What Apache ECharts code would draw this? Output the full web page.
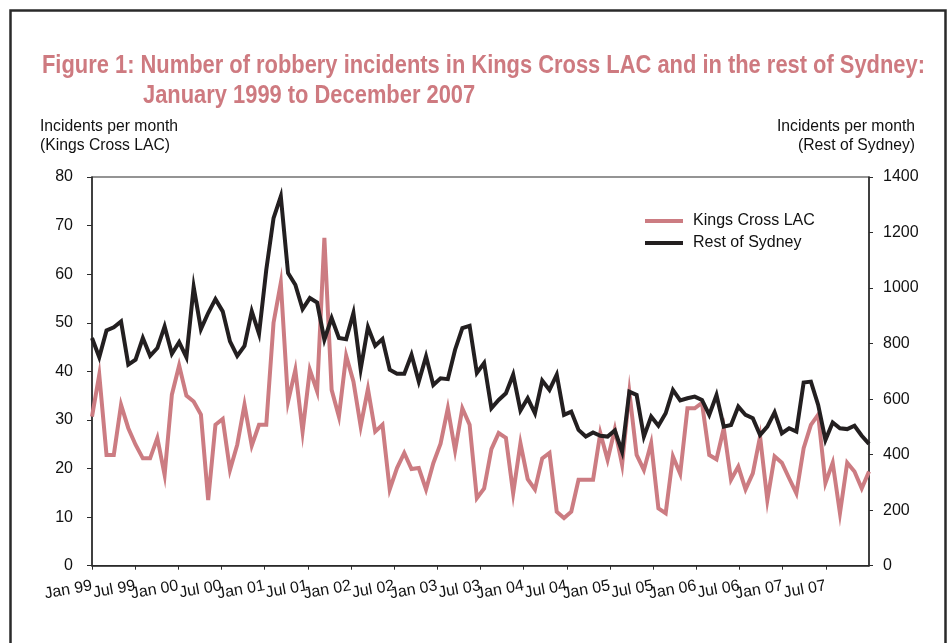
<!DOCTYPE html>
<html>
<head>
<meta charset="utf-8">
<script src="https://cdn.jsdelivr.net/npm/echarts@6/dist/echarts.min.js"></script>
<style>
html,body{margin:0;padding:0;background:#fff;}
#chart{width:952px;height:643px;}
</style>
</head>
<body>
<div id="chart"></div>
<script>
// Monthly robbery incidents, Jan 1999 - Dec 2007
var kingsCross = [
  30.7,39.3,22.8,22.8,33.1,28.3,24.9,22.1,22.1,26.3,18.7,35.2,41.2,35,33.8,31.1,13.5,29,30.2,19.7,24.9,33.1,24.7,29,29,50,58.2,
  33.8,40.3,27.6,40.3,35.9,67.5,36.2,30.7,43.2,37.9,28.7,36.4,27.6,29,15.7,20.1,23.2,19.9,20.1,15.7,21.1,25.1,32.4,23.7,32.4,29,13.9,
  15.9,24,27.3,26.3,14.9,25.2,17.8,15.7,22.1,23.2,11.1,9.8,11.1,17.7,17.7,17.7,27.3,21.8,28.1,20.8,35.7,22.8,19.7,25.2,11.8,10.8,22.5,
  18.9,32.4,32.4,33.5,22.8,21.9,28.3,17.7,20.4,15.7,19,26.6,13.5,22.5,21.2,18,14.9,24.2,29,31.1,17,21.2,10.8,21.2,19.4,15.9,19.4
];
var restOfSydney = [
  820,751,847,859,880,724,742,820,756,784,862,763,805,751,1004,852,910,960,916,808,756,792,916,835,1066,1252,1330,
  1054,1012,924,964,948,814,892,820,816,910,708,859,792,816,706,691,691,760,663,754,651,675,672,778,856,864,694,
  730,567,597,621,688,559,603,549,667,633,688,543,555,489,465,480,468,465,487,411,627,615,465,537,504,549,633,
  595,603,609,597,543,615,501,507,573,543,531,471,501,552,477,495,483,660,663,579,453,516,495,492,504,468,439
];
var tickLabels = ['Jan 99','Jul 99','Jan 00','Jul 00','Jan 01','Jul 01','Jan 02','Jul 02','Jan 03','Jul 03',
                  'Jan 04','Jul 04','Jan 05','Jul 05','Jan 06','Jul 06','Jan 07','Jul 07',''];
var monthNames = ['Jan','Feb','Mar','Apr','May','Jun','Jul','Aug','Sep','Oct','Nov','Dec'];
var years = ['99','00','01','02','03','04','05','06','07'];
var months = [];
years.forEach(function(y){ monthNames.forEach(function(m){ months.push(m + ' ' + y); }); });

var TITLE1 = 'Figure 1: Number of robbery incidents in Kings Cross LAC and in the rest of Sydney:';
var TITLE2 = 'January 1999 to December 2007';
var FONT = "'Liberation Sans',Arial,sans-serif";
var PINK = '#CC7C82';
var TITLE_PINK = '#CE7A80';
var BLACK = '#231F20';
var AXIS = '#2b2b2b';

// horizontal compression to imitate the condensed typeface of the original
var ctx = document.createElement('canvas').getContext('2d');
function textWidth(txt, font) { ctx.font = font; return ctx.measureText(txt).width; }
var titleFont = 'bold 25px ' + FONT;
var titleScale = 883 / textWidth(TITLE1, titleFont);
var nameFont = '16.5px ' + FONT;
var nameScale = 138 / textWidth('Incidents per month', nameFont);

function label(txt, x, y, align) {
  return { type: 'text', x: x, y: y, scaleX: nameScale, silent: true,
    style: { x: 0, y: 0, text: txt, font: nameFont, fill: '#111', textAlign: align, textVerticalAlign: 'top' } };
}

var chart = echarts.init(document.getElementById('chart'));
chart.setOption({
  backgroundColor: '#ffffff',
  animation: false,
  graphic: [
    { type: 'rect', shape: { x: 10.5, y: 10.5, width: 935, height: 700 },
      style: { fill: 'none', stroke: '#2a2a2a', lineWidth: 2.5 }, silent: true },
    { type: 'text', x: 42, y: 54, scaleX: titleScale, silent: true,
      style: { x: 0, y: 0, text: TITLE1, font: titleFont, fill: TITLE_PINK, textAlign: 'left', textVerticalAlign: 'top' } },
    { type: 'text', x: 143, y: 84, scaleX: titleScale, silent: true,
      style: { x: 0, y: 0, text: TITLE2, font: titleFont, fill: TITLE_PINK, textAlign: 'left', textVerticalAlign: 'top' } },
    label('Incidents per month', 40, 118, 'left'),
    label('(Kings Cross LAC)', 40, 137, 'left'),
    label('Incidents per month', 915, 118, 'right'),
    label('(Rest of Sydney)', 915, 137, 'right')
  ],
  legend: {
    orient: 'vertical', left: 640, top: 208, itemGap: 6,
    itemWidth: 38, itemHeight: 4, icon: 'rect',
    textStyle: { fontFamily: FONT, fontSize: 16, color: '#111', padding: [0, 0, 0, 5] },
    data: [
      { name: 'Kings Cross LAC', itemStyle: { color: PINK } },
      { name: 'Rest of Sydney', itemStyle: { color: BLACK } }
    ]
  },
  grid: { left: 92, right: 83, top: 177, bottom: 77.3, show: true, borderColor: AXIS, borderWidth: 1.2, backgroundColor: 'transparent' },
  xAxis: [
    { type: 'category', data: months, boundaryGap: false, show: false },
    { type: 'value', min: 0, max: 108, interval: 6, position: 'bottom',
      axisLine: { show: true, lineStyle: { color: AXIS, width: 1.5 } },
      axisTick: { show: true, length: 4, lineStyle: { color: AXIS } },
      splitLine: { show: false },
      axisLabel: { rotate: 10, margin: 20, fontFamily: FONT, fontSize: 16, color: '#111',
        showMinLabel: true, showMaxLabel: false, hideOverlap: false,
        formatter: function (v) { return tickLabels[Math.round(v / 6)] || ''; } } }
  ],
  yAxis: [
    { type: 'value', min: 0, max: 80, interval: 10, position: 'left',
      axisLine: { show: true, lineStyle: { color: AXIS, width: 1.5 } },
      axisTick: { show: true, length: 5, lineStyle: { color: AXIS } },
      splitLine: { show: false },
      axisLabel: { margin: 19, fontFamily: FONT, fontSize: 16, color: '#111' } },
    { type: 'value', min: 0, max: 1400, interval: 200, position: 'right',
      axisLine: { show: true, lineStyle: { color: AXIS, width: 1.5 } },
      axisTick: { show: true, length: 4, lineStyle: { color: AXIS } },
      splitLine: { show: false },
      axisLabel: { margin: 14, fontFamily: FONT, fontSize: 16, color: '#111',
        formatter: function (v) { return String(v); } } }
  ],
  series: [
    { name: 'Kings Cross LAC', type: 'line', xAxisIndex: 0, yAxisIndex: 0, data: kingsCross,
      showSymbol: false, symbol: 'none', lineStyle: { color: PINK, width: 4, join: 'miter' }, itemStyle: { color: PINK } },
    { name: 'Rest of Sydney', type: 'line', xAxisIndex: 0, yAxisIndex: 1, data: restOfSydney,
      showSymbol: false, symbol: 'none', lineStyle: { color: BLACK, width: 4, join: 'miter' }, itemStyle: { color: BLACK } }
  ]
});
</script>
</body>
</html>
